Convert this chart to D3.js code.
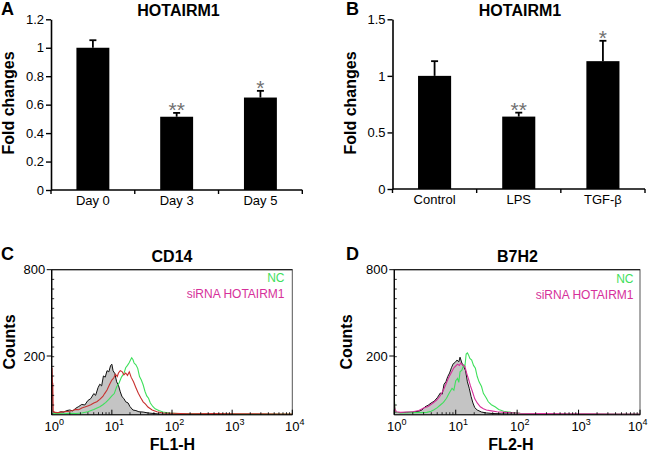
<!DOCTYPE html>
<html><head><meta charset="utf-8">
<script src="https://cdn.jsdelivr.net/npm/d3@7"></script>
<style>body{margin:0;background:#fff} svg{display:block;font-family:"Liberation Sans",Arial,Helvetica,sans-serif}</style>
</head><body><svg id="c" width="649" height="454"></svg>
<script>
// ---------- Data ----------
const categoriesA = ["Day 0", "Day 3", "Day 5"];
const valuesA = [1.0, 0.515, 0.65];
const errorsA = [0.053, 0.027, 0.047];
const starsA = ["", "**", "*"];
const yTicksA = [0, 0.2, 0.4, 0.6, 0.8, 1, 1.2];

const categoriesB = ["Control", "LPS", "TGF-β"];
const valuesB = [1.0, 0.64, 1.13];
const errorsB = [0.13, 0.035, 0.18];
const starsB = ["", "**", "*"];
const yTicksB = [0, 0.5, 1, 1.5];

const countTicks = [200, 800];
const decadeTicks = [0, 1, 2, 3, 4];   // exponents: 10^0 .. 10^4
const legendLabels = ["NC", "siRNA HOTAIRM1"];

// histograms: [log10(fluorescence), counts]
const cd14Isotype = [[0,0],[0.02,5],[0.05,8],[0.1,6],[0.15,10],[0.2,9],[0.25,14],[0.3,16],[0.35,13],[0.4,22],[0.45,28],[0.5,35],[0.55,33],[0.6,48],[0.65,55],[0.7,72],[0.73,66],[0.77,92],[0.8,104],[0.83,98],[0.86,132],[0.89,128],[0.92,150],[0.95,146],[0.98,168],[1.0,172],[1.02,150],[1.05,140],[1.08,112],[1.11,100],[1.14,78],[1.17,61],[1.2,55],[1.23,44],[1.27,40],[1.3,28],[1.35,16],[1.4,14],[1.45,10],[1.52,9],[1.6,6],[1.7,4],[1.8,2],[2.0,2],[2.5,1],[3,1],[3.5,1],[4,0]];
const cd14NC = [[0,3],[0.1,4],[0.2,3],[0.3,5],[0.4,4],[0.5,6],[0.6,10],[0.7,18],[0.8,27],[0.85,34],[0.9,42],[0.95,52],[1.0,64],[1.04,72],[1.08,95],[1.12,108],[1.16,128],[1.2,140],[1.23,160],[1.26,168],[1.29,178],[1.31,186],[1.33,194],[1.35,188],[1.37,176],[1.4,170],[1.43,158],[1.46,130],[1.49,118],[1.52,102],[1.55,80],[1.58,64],[1.61,56],[1.64,40],[1.68,28],[1.72,20],[1.78,14],[1.85,9],[1.95,6],[2.1,4],[2.4,3],[2.8,3],[3.2,2],[3.6,2],[4,2]];
const cd14SiRNA = [[0,0],[0.005,160],[0.012,110],[0.018,106],[0.025,12],[0.05,8],[0.1,7],[0.2,10],[0.3,12],[0.35,14],[0.4,18],[0.45,17],[0.5,23],[0.55,26],[0.6,30],[0.65,34],[0.7,40],[0.75,44],[0.8,52],[0.85,62],[0.88,72],[0.92,84],[0.96,102],[1.0,118],[1.03,125],[1.06,138],[1.09,130],[1.11,142],[1.14,150],[1.17,147],[1.2,136],[1.23,142],[1.26,134],[1.29,146],[1.32,128],[1.36,112],[1.4,92],[1.44,73],[1.48,58],[1.52,44],[1.56,36],[1.6,26],[1.67,16],[1.75,10],[1.85,6],[2.0,5],[2.3,3],[2.7,4],[3.0,3],[3.4,3],[3.8,2],[4,2]];

const b7h2Isotype = [[0,30],[0.01,10],[0.03,8],[0.1,7],[0.2,8],[0.3,9],[0.4,12],[0.45,16],[0.5,27],[0.55,32],[0.6,40],[0.65,46],[0.7,58],[0.75,74],[0.78,70],[0.81,104],[0.84,112],[0.87,130],[0.9,142],[0.93,160],[0.96,174],[0.99,178],[1.02,186],[1.05,180],[1.07,196],[1.1,176],[1.13,164],[1.16,150],[1.19,112],[1.22,90],[1.25,62],[1.28,40],[1.31,24],[1.35,16],[1.42,9],[1.5,6],[1.6,4],[1.75,3],[2,2],[2.5,2],[3,1],[3.5,1],[4,1]];
const b7h2NC = [[0,55],[0.01,25],[0.03,8],[0.1,6],[0.2,6],[0.3,7],[0.4,7],[0.53,8],[0.6,12],[0.64,16],[0.7,24],[0.75,33],[0.8,42],[0.85,56],[0.89,72],[0.94,90],[0.97,84],[1.0,116],[1.03,124],[1.05,110],[1.07,146],[1.1,152],[1.13,170],[1.15,166],[1.17,214],[1.19,222],[1.21,206],[1.23,192],[1.26,186],[1.29,168],[1.32,158],[1.35,130],[1.38,112],[1.42,96],[1.45,73],[1.5,56],[1.53,44],[1.58,34],[1.64,27],[1.7,18],[1.78,12],[1.9,8],[2.05,5],[2.3,4],[2.7,3],[3.1,3],[3.5,2],[4,2]];
const b7h2SiRNA = [[0,42],[0.01,20],[0.03,10],[0.1,8],[0.2,9],[0.3,10],[0.4,14],[0.47,22],[0.55,28],[0.62,38],[0.69,50],[0.74,62],[0.8,84],[0.84,104],[0.88,124],[0.91,136],[0.94,148],[0.97,160],[1.0,166],[1.03,172],[1.06,168],[1.08,176],[1.11,170],[1.15,164],[1.18,140],[1.21,120],[1.24,98],[1.27,80],[1.31,54],[1.35,40],[1.4,27],[1.45,20],[1.5,16],[1.58,13],[1.67,10],[1.8,8],[2.05,5],[2.4,4],[2.8,3],[3.2,3],[3.6,2],[4,2]];

// ---------- Drawing ----------
const svg = d3.select("#c");
const FONT = '"Liberation Sans",Arial,Helvetica,sans-serif';

function label(x, y, txt, size, opts = {}) {
  const t = svg.append("text").attr("x", x).attr("y", y).text(txt)
    .attr("font-size", size).attr("font-weight", opts.bold ? "bold" : "normal")
    .attr("text-anchor", opts.anchor || "start").attr("fill", opts.fill || "#000");
  if (opts.rotate) t.attr("transform", `rotate(-90,${x},${y})`);
  return t;
}

function barPanel(cfg) {
  const { cats, vals, errs, stars, ticks, ymax, x0, x1, yb, yt } = cfg;
  const g = svg.append("g");
  const pi = 0.607;
  const x = d3.scaleBand().domain(cats).range([x0, x1]).paddingInner(pi).paddingOuter(pi / 2);
  const y = d3.scaleLinear().domain([0, ymax]).range([yb, yt]);

  const ya = g.append("g").attr("transform", `translate(${x0},0)`)
    .call(d3.axisLeft(y).tickValues(ticks).tickFormat(d3.format("~g")).tickSize(5).tickSizeOuter(0).tickPadding(2));
  ya.select(".domain").attr("stroke", "#000").attr("stroke-width", 1.6);
  ya.selectAll(".tick line").attr("stroke-width", 1.4);
  ya.selectAll(".tick text").attr("font-size", 13).attr("font-family", FONT).attr("fill", "#000");

  g.append("line").attr("x1", x0).attr("x2", x1).attr("y1", yb).attr("y2", yb)
    .attr("stroke", "#000").attr("stroke-width", 1.6);
  g.selectAll(".bt").data(d3.range(cats.length + 1)).join("line")
    .attr("x1", i => x0 + i * x.step()).attr("x2", i => x0 + i * x.step())
    .attr("y1", yb).attr("y2", yb + 4).attr("stroke", "#000").attr("stroke-width", 1.4);
  g.selectAll(".xl").data(cats).join("text")
    .attr("x", d => x(d) + x.bandwidth() / 2).attr("y", yb + 14.5)
    .attr("text-anchor", "middle").attr("font-size", 13).text(d => d);

  g.selectAll(".bar").data(cats).join("rect")
    .attr("x", d => x(d)).attr("width", x.bandwidth())
    .attr("y", (d, i) => y(vals[i])).attr("height", (d, i) => yb - y(vals[i]))
    .attr("fill", "#000");
  g.selectAll(".ev").data(cats).join("line")
    .attr("x1", d => x(d) + x.bandwidth() / 2).attr("x2", d => x(d) + x.bandwidth() / 2)
    .attr("y1", (d, i) => y(vals[i])).attr("y2", (d, i) => y(vals[i] + errs[i]))
    .attr("stroke", "#000").attr("stroke-width", 1.8);
  g.selectAll(".ec").data(cats).join("line")
    .attr("x1", d => x(d) + x.bandwidth() / 2 - 3.5).attr("x2", d => x(d) + x.bandwidth() / 2 + 3.5)
    .attr("y1", (d, i) => y(vals[i] + errs[i])).attr("y2", (d, i) => y(vals[i] + errs[i]))
    .attr("stroke", "#000").attr("stroke-width", 1.8);
  g.selectAll(".st").data(cats).join("text")
    .attr("x", d => x(d) + x.bandwidth() / 2).attr("y", (d, i) => y(vals[i] + errs[i]) + 4)
    .attr("text-anchor", "middle").attr("font-size", 21).attr("fill", "#707070")
    .text((d, i) => stars[i]);
}

function flowPanel(cfg) {
  const { x0, x1, iso, nc, si, siColor, legendX } = cfg;
  const yb = 414.7, yt = 269.7;
  const g = svg.append("g");
  const x = d3.scaleLinear().domain([0, 4]).range([x0, x1]);
  const y = d3.scaleLinear().domain([0, 200, 800]).range([yb, 356, yt]);
  const clipId = "clip" + Math.round(x0);
  g.append("clipPath").attr("id", clipId).append("rect")
    .attr("x", x0).attr("y", yt).attr("width", x1 - x0).attr("height", yb - yt);

  g.append("rect").attr("x", x0).attr("y", yt).attr("width", x1 - x0).attr("height", yb - yt)
    .attr("fill", "none").attr("stroke", "#555").attr("stroke-width", 1);
  g.append("line").attr("x1", x0).attr("x2", x1).attr("y1", yt).attr("y2", yt).attr("stroke", "#222").attr("stroke-width", 1.2);

  const cg = g.append("g").attr("clip-path", `url(#${clipId})`);
  const area = d3.area().x(d => x(d[0])).y0(yb).y1(d => y(d[1]));
  const line = d3.line().x(d => x(d[0])).y(d => y(d[1]));
  cg.append("path").datum(iso).attr("d", area).attr("fill", "#c4c4c4");
  cg.append("path").datum(iso).attr("d", line).attr("fill", "none").attr("stroke", "#111").attr("stroke-width", 1);
  cg.append("path").datum(nc).attr("d", line).attr("fill", "none").attr("stroke", "#3fe05c").attr("stroke-width", 1.1);
  cg.append("path").datum(si).attr("d", line).attr("fill", "none").attr("stroke", siColor).attr("stroke-width", 1.1);

  g.append("line").attr("x1", x0).attr("x2", x0).attr("y1", yt).attr("y2", yb).attr("stroke", "#000").attr("stroke-width", 1.3);
  g.append("line").attr("x1", x0).attr("x2", x1).attr("y1", yb).attr("y2", yb).attr("stroke", "#000").attr("stroke-width", 1.1);

  g.selectAll(".yt").data(countTicks).join("line")
    .attr("x1", x0 - 5).attr("x2", x0).attr("y1", d => y(d)).attr("y2", d => y(d))
    .attr("stroke", "#000").attr("stroke-width", 1);
  g.selectAll(".yl").data(countTicks).join("text")
    .attr("x", x0 - 6.5).attr("y", d => y(d) + 4.5).attr("text-anchor", "end")
    .attr("font-size", 13).text(d => d);
  const ym = d3.scaleLinear().domain([0, 15]).range([yb, yt]);
  g.selectAll(".ym").data(d3.range(1, 15)).join("line")
    .attr("x1", x0).attr("x2", x0 + 2.5).attr("y1", d => ym(d)).attr("y2", d => ym(d))
    .attr("stroke", "#000").attr("stroke-width", 0.8);

  const minors = [];
  for (let d = 0; d < 4; d++) for (let k = 2; k <= 9; k++) minors.push(d + Math.log10(k));
  g.selectAll(".xm").data(minors).join("line")
    .attr("x1", d => x(d)).attr("x2", d => x(d)).attr("y1", yb).attr("y2", yb - 2.5)
    .attr("stroke", "#000").attr("stroke-width", 0.8);
  g.selectAll(".xM").data(decadeTicks).join("line")
    .attr("x1", d => x(d)).attr("x2", d => x(d)).attr("y1", yb).attr("y2", yb - 5)
    .attr("stroke", "#000").attr("stroke-width", 1);
  const xl = g.selectAll(".xl").data(decadeTicks).join("text")
    .attr("x", d => Math.min(x(d) - 7.2, 649 - 21)).attr("y", 431).attr("font-size", 13);
  xl.append("tspan").text("10");
  xl.append("tspan").attr("font-size", 9).attr("dy", -6).text(d => d);

  g.append("text").attr("x", legendX).attr("y", cfg.legY).attr("text-anchor", "end")
    .attr("font-size", 12).attr("fill", "#3fe05c").text(legendLabels[0]);
  g.append("text").attr("x", legendX).attr("y", cfg.legY + 16).attr("text-anchor", "end")
    .attr("font-size", 12).attr("fill", "#d6309a").text(legendLabels[1]);
}

barPanel({ cats: categoriesA, vals: valuesA, errs: errorsA, stars: starsA, ticks: yTicksA, ymax: 1.2,
  x0: 51, x1: 302.3, yb: 190, yt: 19.3 });
barPanel({ cats: categoriesB, vals: valuesB, errs: errorsB, stars: starsB, ticks: yTicksB, ymax: 1.5,
  x0: 392.5, x1: 645, yb: 189, yt: 19.3 });
flowPanel({ x0: 51.7, x1: 292.3, iso: cd14Isotype, nc: cd14NC, si: cd14SiRNA, siColor: "#c8302e", legendX: 284.5, legY: 282 });
flowPanel({ x0: 394.3, x1: 640, iso: b7h2Isotype, nc: b7h2NC, si: b7h2SiRNA, siColor: "#d6309a", legendX: 633.5, legY: 283 });

label(1, 15, "A", 18, { bold: true });
label(346, 15, "B", 18, { bold: true });
label(1, 260, "C", 18, { bold: true });
label(346, 260, "D", 18, { bold: true });
label(178.5, 16, "HOTAIRM1", 16, { bold: true, anchor: "middle" });
label(520, 16, "HOTAIRM1", 16, { bold: true, anchor: "middle" });
label(172, 262, "CD14", 16, { bold: true, anchor: "middle" });
label(517.5, 262, "B7H2", 16, { bold: true, anchor: "middle" });
label(14, 103, "Fold changes", 16, { bold: true, anchor: "middle", rotate: true });
label(355.5, 103, "Fold changes", 16, { bold: true, anchor: "middle", rotate: true });
label(15, 342, "Counts", 16, { bold: true, anchor: "middle", rotate: true });
label(352, 342, "Counts", 16, { bold: true, anchor: "middle", rotate: true });
label(172.5, 450, "FL1-H", 16, { bold: true, anchor: "middle" });
label(511, 450, "FL2-H", 16, { bold: true, anchor: "middle" });
</script></body></html>
